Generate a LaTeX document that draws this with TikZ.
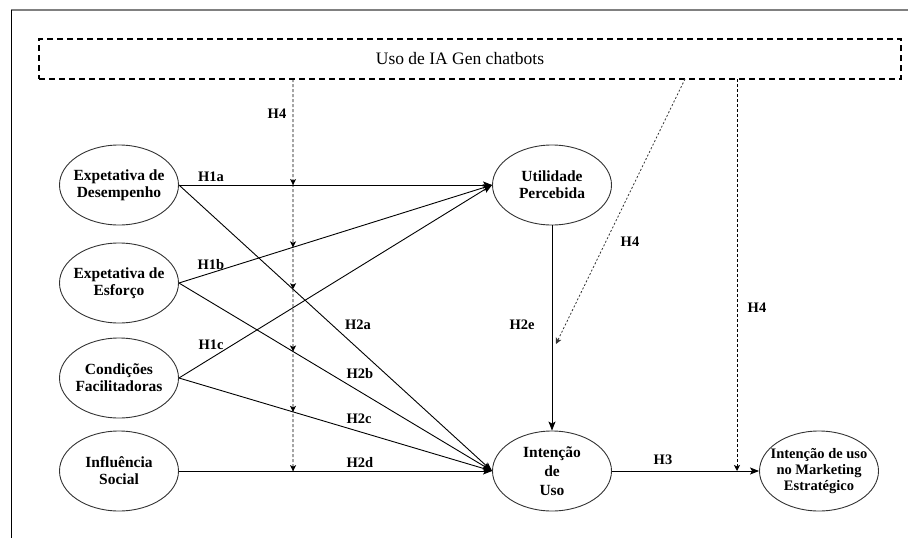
\documentclass[tikz,border=0pt]{standalone}
\usepackage{fontspec}
\setmainfont{Liberation Serif}
\usetikzlibrary{shapes.geometric,arrows.meta}

\begin{document}
\begin{tikzpicture}[x=1pt,y=-1pt,
    construct/.style={ellipse,draw=black!80,line width=0.9pt,minimum width=119pt,minimum height=80pt,
        inner xsep=-12pt,inner ysep=-3pt,align=center,font=\fontsize{15.5}{17}\selectfont\bfseries},
    link/.style={-{Stealth[length=9pt,width=7pt,inset=2pt]},line width=0.9pt},
    mod/.style={-{Stealth[length=6pt,width=6pt,inset=1.5pt]},line width=0.8pt,dash pattern=on 3pt off 2pt},
    modtip/.style={-{Stealth[length=6pt,width=6pt,inset=1.5pt]},line width=0.8pt},
    hyp/.style={font=\fontsize{14.5}{16}\selectfont\bfseries}]
    \useasboundingbox (0,0) rectangle (908,538);
    \draw[black!50,line width=1.5pt] (11,10) -- (908,10);
    \draw[line width=1pt] (11,10) -- (11,538);

    \node[draw,line width=1.6pt,dash pattern=on 6pt off 4pt,minimum width=862pt,minimum height=40pt,
        font=\fontsize{17.5}{20}\selectfont] (gen) at (470,59) {\hspace*{-20pt}Uso de IA Gen chatbots};

    \node[construct] (ed) at (119,185) {Expetativa de\\Desempenho};
    \node[construct] (es) at (119,283) {Expetativa de\\Esforço};
    \node[construct] (cf) at (119,378) {Condições\\Facilitadoras};
    \node[construct] (is) at (119,471) {Influência\\Social};
    \node[construct] (up) at (552,185) {Utilidade\\Percebida};
    \node[construct,font=\fontsize{15.5}{19}\selectfont\bfseries] (iu) at (552,471) {Intenção\\de\\Uso};
    \node[construct,font=\fontsize{14.5}{16}\selectfont\bfseries] (im) at (819,471) {Intenção de uso\\no Marketing\\Estratégico};

    \foreach \n in {ed,es,cf} \draw[link] (\n.east) -- (up.west);
    \foreach \n in {ed,es,cf,is} \draw[link] (\n.east) -- (iu.west);
    \draw[link] (up.south) -- (iu.north);
    \draw[link] (iu.east) -- (im.west);

    \coordinate (m1top) at (293,79);
    \coordinate (m1bot) at (293,530);
    \foreach \a/\b [count=\i] in {ed/up,es/up,ed/iu,es/iu,cf/iu,is/iu}
        \coordinate (x\i) at (intersection of \a.east--\b.west and m1top--m1bot);
    \draw[line width=0.8pt,dash pattern=on 3pt off 2pt] (m1top) -- (x6);
    \foreach \i in {1,...,6} \draw[modtip] ([yshift=2pt]x\i) -- (x\i);
    \coordinate (m2top) at (685,79);
    \coordinate (m2end) at (556,344);
    \draw[mod,dash pattern=on 2pt off 2pt,black!80] (m2top) -- (m2end);
    \coordinate (m3top) at (737,79);
    \draw[mod] (m3top) -- (m3top |- iu.east);

    \node[hyp] (h1a) at (211,177) {H1a};
    \node[hyp] (h1b) at (211,265) {H1b};
    \node[hyp] (h1c) at (211,345) {H1c};
    \node[hyp] (h2a) at (358,325) {H2a};
    \node[hyp] (h2b) at (360,374) {H2b};
    \node[hyp] (h2c) at (359,419) {H2c};
    \node[hyp] (h2d) at (360,463) {H2d};
    \node[hyp] (h2e) at (522,325) {H2e};
    \node[hyp] (h3) at (663,460) {H3};
    \node[hyp] (h4a) at (277,114) {H4};
    \node[hyp] (h4b) at (630,242) {H4};
    \node[hyp] (h4c) at (757,308) {H4};
\end{tikzpicture}
\end{document}
